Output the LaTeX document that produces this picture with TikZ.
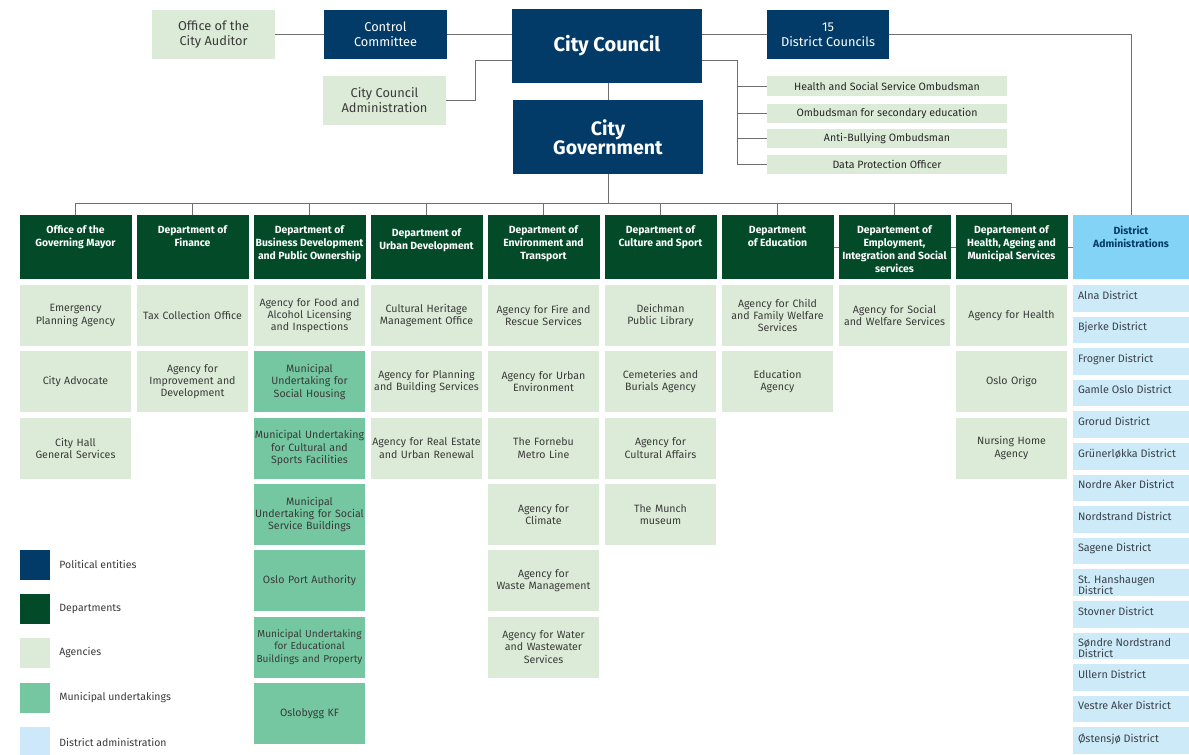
\documentclass[tikz,border=0pt]{standalone}
\usepackage{fontspec}
\setmainfont{Fira Sans}
\usetikzlibrary{backgrounds}
\definecolor{navy}{HTML}{023B68}
\definecolor{deptc}{HTML}{034A29}
\definecolor{agencyc}{HTML}{DCEBD7}
\definecolor{muc}{HTML}{74C7A0}
\definecolor{dahead}{HTML}{82D3F5}
\definecolor{distc}{HTML}{CDEAF8}
\definecolor{legdist}{HTML}{CCE8FA}
\definecolor{txtc}{HTML}{3A3A3A}
\definecolor{disttxt}{HTML}{3A4148}
\definecolor{linec}{HTML}{707070}
\newcommand{\dtxt}[2][42]{\parbox[c][#1pt][t]{112pt}{\centering #2}}
\newcommand{\distxt}[1]{\parbox[c][15pt][t]{106pt}{\raggedright #1}}
\begin{document}
\begin{tikzpicture}[x=1pt,y=-1pt,
  base/.style={rectangle, inner sep=0pt, draw=none},
  navybox/.style={base, fill=navy, text=white, align=center},
  topag/.style={base, fill=agencyc, text=txtc, align=center, font=\fontsize{12.8}{15}\selectfont, minimum width=123pt, minimum height=49pt},
  ombox/.style={base, fill=agencyc, text=black!85, font=\fontsize{10.6}{12}\selectfont, minimum width=240pt, minimum height=19.5pt},
  dept/.style={base, fill=deptc, text=white, font=\fontsize{10.4}{13}\selectfont\bfseries, minimum width=111pt, minimum height=64pt},
  dahd/.style={base, fill=dahead, text=navy, font=\fontsize{10.4}{13}\selectfont\bfseries, minimum width=116pt, minimum height=64pt},
  agency/.style={base, fill=agencyc, text=txtc, align=center, font=\fontsize{10.6}{12.3}\selectfont, minimum width=111pt, minimum height=61pt, text width=111pt},
  mu/.style={agency, fill=muc},
  dist/.style={base, fill=distc, text=disttxt, font=\fontsize{10.8}{11}\selectfont, minimum width=116pt, minimum height=26.5pt},
  legsq/.style={base, minimum width=30pt, minimum height=30pt},
  leglab/.style={anchor=west, inner sep=0pt, text=txtc, font=\fontsize{10.5}{12}\selectfont},
  conn/.style={draw=linec, line width=1pt}
]
\begin{pgfonlayer}{background}
\fill[white] (0,0) rectangle (1189,755);
\end{pgfonlayer}
\useasboundingbox (0,0) rectangle (1189,755);

% ---------- top level ----------
\node[topag] (aud) at (213.5,34.5) {Office of the\\City Auditor};
\node[navybox, font=\fontsize{12.8}{15}\selectfont, minimum width=123pt, minimum height=49pt] (cc) at (385.5,34.5) {Control\\Committee};
\node[navybox, font=\fontsize{20}{19}\selectfont\bfseries, minimum width=190pt, minimum height=74pt] (council) at (607,46) {City Council};
\node[topag] (cca) at (384.5,100.5) {City Council\\Administration};
\node[navybox, font=\fontsize{19.5}{19}\selectfont\bfseries, minimum width=190pt, minimum height=74pt] (gov) at (608,137) {City\\Government};
\node[navybox, font=\fontsize{12.8}{15}\selectfont, minimum width=122pt, minimum height=49pt] (dc) at (828,34.5) {15\\District Councils};
\node[ombox] (om1) at (887,86) {Health and Social Service Ombudsman};
\node[ombox] (om2) at (887,113.5) {Ombudsman for secondary education};
\node[ombox] (om3) at (887,138.7) {Anti-Bullying Ombudsman};
\node[ombox] (om4) at (887,164.7) {Data Protection Officer};

% ---------- departments ----------
\node[dept] (d1) at (75.5,247) {\dtxt{Office of the\\Governing Mayor}};
\node[dept] (d2) at (192.5,247) {\dtxt{Department of\\Finance}};
\node[dept] (d3) at (309.5,247) {\dtxt{Department of\\Business Development\\and Public Ownership}};
\node[dept] (d4) at (426.5,247) {\dtxt[36]{Department of\\Urban Development}};
\node[dept] (d5) at (543.5,247) {\dtxt{Department of\\Environment and\\Transport}};
\node[dept] (d6) at (660.5,247) {\dtxt{Department of\\Culture and Sport}};
\node[dept] (d7) at (777.5,247) {\dtxt{Department\\of Education}};
\node[dept] (d8) at (894.5,247) {\dtxt{Departement of\\Employment,\\Integration and Social\\services}};
\node[dept] (d9) at (1011.5,247) {\dtxt{Departement of\\Health, Ageing and\\Municipal Services}};
\node[dahd] (da) at (1131,247) {\dtxt{District\\Administrations}};

% ---------- agencies ----------
\node[agency] (a11) at (75.5,315.5) {Emergency\\Planning Agency};
\node[agency] (a12) at (75.5,381.8) {City Advocate};
\node[agency] (a13) at (75.5,448.1) {City Hall\\General Services};

\node[agency] (a21) at (192.5,315.5) {Tax Collection Office};
\node[agency] (a22) at (192.5,381.8) {Agency for\\Improvement and\\Development};

\node[agency] (a31) at (309.5,315.5) {Agency for Food and\\Alcohol Licensing\\and Inspections};
\node[mu] (a32) at (309.5,381.8) {Municipal\\Undertaking for\\Social Housing};
\node[mu] (a33) at (309.5,448.1) {Municipal Undertaking\\for Cultural and\\Sports Facilities};
\node[mu] (a34) at (309.5,514.4) {Municipal\\Undertaking for Social\\Service Buildings};
\node[mu] (a35) at (309.5,580.7) {Oslo Port Authority};
\node[mu, font=\fontsize{10.1}{12.3}\selectfont] (a36) at (309.5,647.0) {Municipal Undertaking\\for Educational\\Buildings and Property};
\node[mu] (a37) at (309.5,713.3) {Oslobygg KF};

\node[agency] (a41) at (426.5,315.5) {Cultural Heritage\\Management Office};
\node[agency] (a42) at (426.5,381.8) {Agency for Planning\\and Building Services};
\node[agency] (a43) at (426.5,448.1) {Agency for Real Estate\\and Urban Renewal};

\node[agency] (a51) at (543.5,315.5) {Agency for Fire and\\Rescue Services};
\node[agency] (a52) at (543.5,381.8) {Agency for Urban\\Environment};
\node[agency] (a53) at (543.5,448.1) {The Fornebu\\Metro Line};
\node[agency] (a54) at (543.5,514.4) {Agency for\\Climate};
\node[agency] (a55) at (543.5,580.7) {Agency for\\Waste Management};
\node[agency] (a56) at (543.5,647.0) {Agency for Water\\and Wastewater\\Services};

\node[agency] (a61) at (660.5,315.5) {Deichman\\Public Library};
\node[agency] (a62) at (660.5,381.8) {Cemeteries and\\Burials Agency};
\node[agency] (a63) at (660.5,448.1) {Agency for\\Cultural Affairs};
\node[agency] (a64) at (660.5,514.4) {The Munch\\museum};

\node[agency] (a71) at (777.5,315.5) {Agency for Child\\and Family Welfare\\Services};
\node[agency] (a72) at (777.5,381.8) {Education\\Agency};

\node[agency] (a81) at (894.5,315.5) {Agency for Social\\and Welfare Services};

\node[agency] (a91) at (1011.5,315.5) {Agency for Health};
\node[agency] (a92) at (1011.5,381.8) {Oslo Origo};
\node[agency] (a93) at (1011.5,448.1) {Nursing Home\\Agency};

% ---------- districts ----------
\foreach \n [count=\k] in {Alna District, Bjerke District, Frogner District, Gamle Oslo District, Grorud District, Grünerløkka District, Nordre Aker District, Nordstrand District, Sagene District, {St. Hanshaugen\\District}, Stovner District, {Søndre Nordstrand\\District}, Ullern District, Vestre Aker District, Østensjø District}
  \node[dist] (dist\k) at (1131,{298.25+31.6*(\k-1)}) {\distxt{\n}};

% ---------- legend ----------
\node[legsq, fill=navy] (l1) at (35,564.5) {};
\node[legsq, fill=deptc] (l2) at (35,608.5) {};
\node[legsq, fill=agencyc] (l3) at (35,653) {};
\node[legsq, fill=muc] (l4) at (35,697.5) {};
\node[legsq, fill=legdist] (l5) at (35,742) {};
\node[leglab] (t1) at ([xshift=9pt]l1.east) {Political entities};
\node[leglab] (t2) at ([xshift=9pt]l2.east) {Departments};
\node[leglab] (t3) at ([xshift=9pt]l3.east) {Agencies};
\node[leglab] (t4) at ([xshift=9pt]l4.east) {Municipal undertakings};
\node[leglab] (t5) at ([xshift=9pt]l5.east) {District administration};

% ---------- connectors ----------
\begin{pgfonlayer}{background}
\draw[conn] (aud.east) -- (cc.west);
\draw[conn] (cc.east) -- (cc.east -| council.west);
\draw[conn] (dc.west) -- (dc.west -| council.east);
\draw[conn] (dc.east) -| (da.north);
\coordinate (ca) at (475,60);
\draw[conn] (cca.east) -| (ca) -- (ca -| council.west);
\coordinate (ob) at (737,60);
\draw[conn] (ob -| council.east) -- (ob) |- (om4.west);
\draw[conn] (ob |- om1.west) -- (om1.west);
\draw[conn] (ob |- om2.west) -- (om2.west);
\draw[conn] (ob |- om3.west) -- (om3.west);
\draw[conn] (council.south -| gov.north) -- (gov.north);
\coordinate (bus) at (608,203);
\draw[conn] (gov.south) -- (bus);
\draw[conn] (d1.north |- bus) -- (d9.north |- bus);
\foreach \i in {1,...,9} \draw[conn] (d\i.north |- bus) -- (d\i.north);
\draw[conn] (d7.east) -- (da.west);
\end{pgfonlayer}
\end{tikzpicture}
\end{document}
